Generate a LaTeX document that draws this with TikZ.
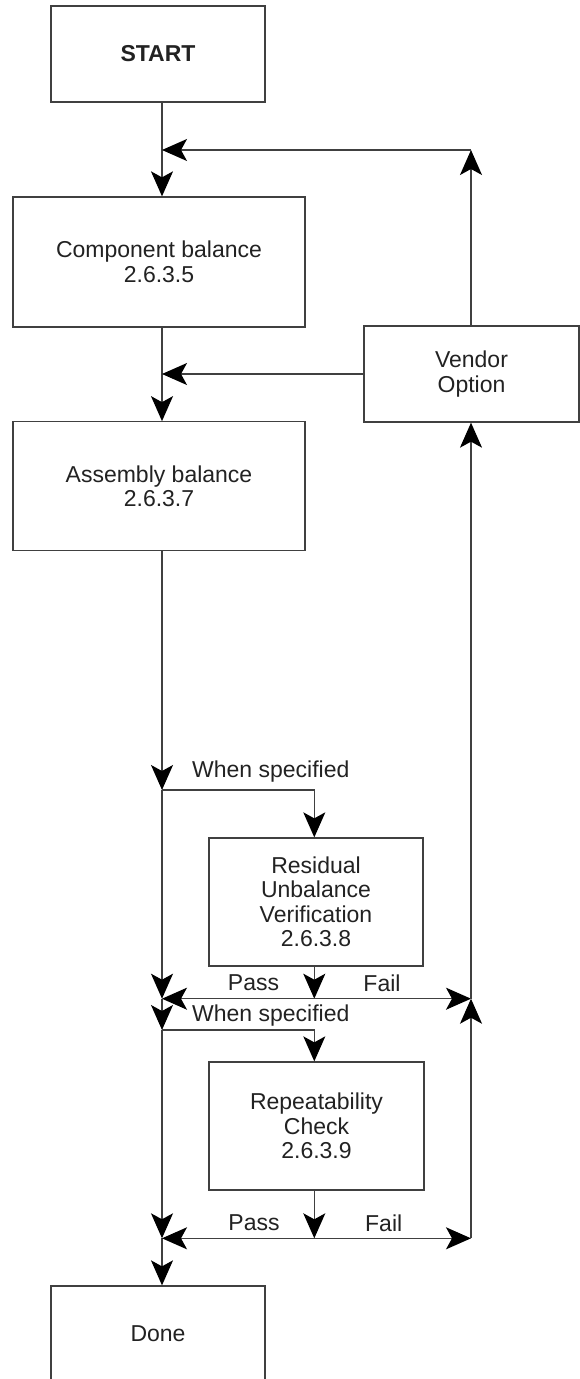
\documentclass[tikz,border=0pt]{standalone}
\usepackage{fontspec}
\setmainfont{Liberation Sans}
\usetikzlibrary{arrows.meta}
\definecolor{linegray}{HTML}{404040}
\definecolor{textgray}{HTML}{222222}
\newcommand{\diagfont}{\fontsize{23}{24.5}\selectfont}
\begin{document}
\begin{tikzpicture}[x=1pt,y=-1pt,
  box/.style={draw=linegray, line width=1.3pt, fill=white, align=center, inner sep=0pt, font=\diagfont, text=textgray},
  conn/.style={draw=linegray, line width=1.3pt},
  arr/.style={conn, -{Stealth[length=25pt,width=22pt,inset=6pt,color=black]}},
  lbl/.style={font=\diagfont, text=textgray, inner sep=0pt}]
\path[use as bounding box] (0,0) rectangle (580,1379);

% boxes
\node[box, minimum width=214pt, minimum height=96pt, font=\diagfont\bfseries] (start) at (158,54) {START};
\node[box, minimum width=292pt, minimum height=130pt] (comp) at (159,262) {Component balance\\2.6.3.5};
\node[box, minimum width=292pt, minimum height=129pt] (asm) at (159,486.3) {Assembly balance\\2.6.3.7};
\node[box, minimum width=215pt, minimum height=96pt] (vendor) at (471.5,374) {Vendor\\Option};
\node[box, minimum width=214pt, minimum height=128pt] (ruv) at (316,902) {Residual\\Unbalance\\Verification\\2.6.3.8};
\node[box, minimum width=215pt, minimum height=128pt] (rc) at (316.5,1126) {Repeatability\\Check\\2.6.3.9};
\node[box, minimum width=214pt, minimum height=96pt] (done) at (158,1334) {Done};

% junctions
\coordinate (j0) at (162,150);
\coordinate (j1) at (162,374);
\coordinate (j2) at (162,790);
\coordinate (j3) at (162,998.7);
\coordinate (j4) at (162,1030);
\coordinate (j5) at (162,1238.3);
\coordinate (b1) at (314.3,790);
\coordinate (p1) at (314.3,998.7);
\coordinate (b2) at (314.3,1030);
\coordinate (p2) at (314.3,1238.3);
\coordinate (r0) at (471,150);
\coordinate (r1) at (471,998.7);
\coordinate (r2) at (471,1238.3);

% main line
\draw[arr] (start.south -| j0) -- (comp.north -| j0);
\draw[arr] (comp.south -| j0) -- (asm.north -| j0);
\draw[arr] (asm.south -| j0) -- (j2);
\draw[arr] (j2) -- (j3);
\draw[arr] (j3) -- (j4);
\draw[arr] (j4) -- (j5);
\draw[arr] (j5) -- (done.north -| j5);

% branches
\draw[arr] (j2) -- (b1) -- (ruv.north -| b1);
\draw[arr] (ruv.south -| p1) -- (p1);
\draw[arr] (p1) -- (j3);
\draw[arr] (p1) -- (r1);
\draw[arr] (j4) -- (b2) -- (rc.north -| b2);
\draw[arr] (rc.south -| p2) -- (p2);
\draw[arr] (p2) -- (j5);
\draw[arr] (p2) -- (r2);

% right side / vendor
\draw[arr] (r2) -- (r1);
\draw[arr] (r1) -- (vendor.south -| r1);
\draw[arr] (vendor.north -| r0) -- (r0);
\draw[arr] (r0) -- (j0);
\draw[arr] (vendor.west) -- (j1);

% labels
\node[lbl, anchor=west] (ws1) at (192,772) {When specified};
\node[lbl] (pass1) at (253.5,983) {Pass};
\node[lbl] (fail1) at (382,983) {Fail};
\node[lbl, anchor=west] (ws2) at (192,1015.7) {When specified};
\node[lbl] (pass2) at (254,1223) {Pass};
\node[lbl] (fail2) at (383.7,1223) {Fail};
\end{tikzpicture}
\end{document}
